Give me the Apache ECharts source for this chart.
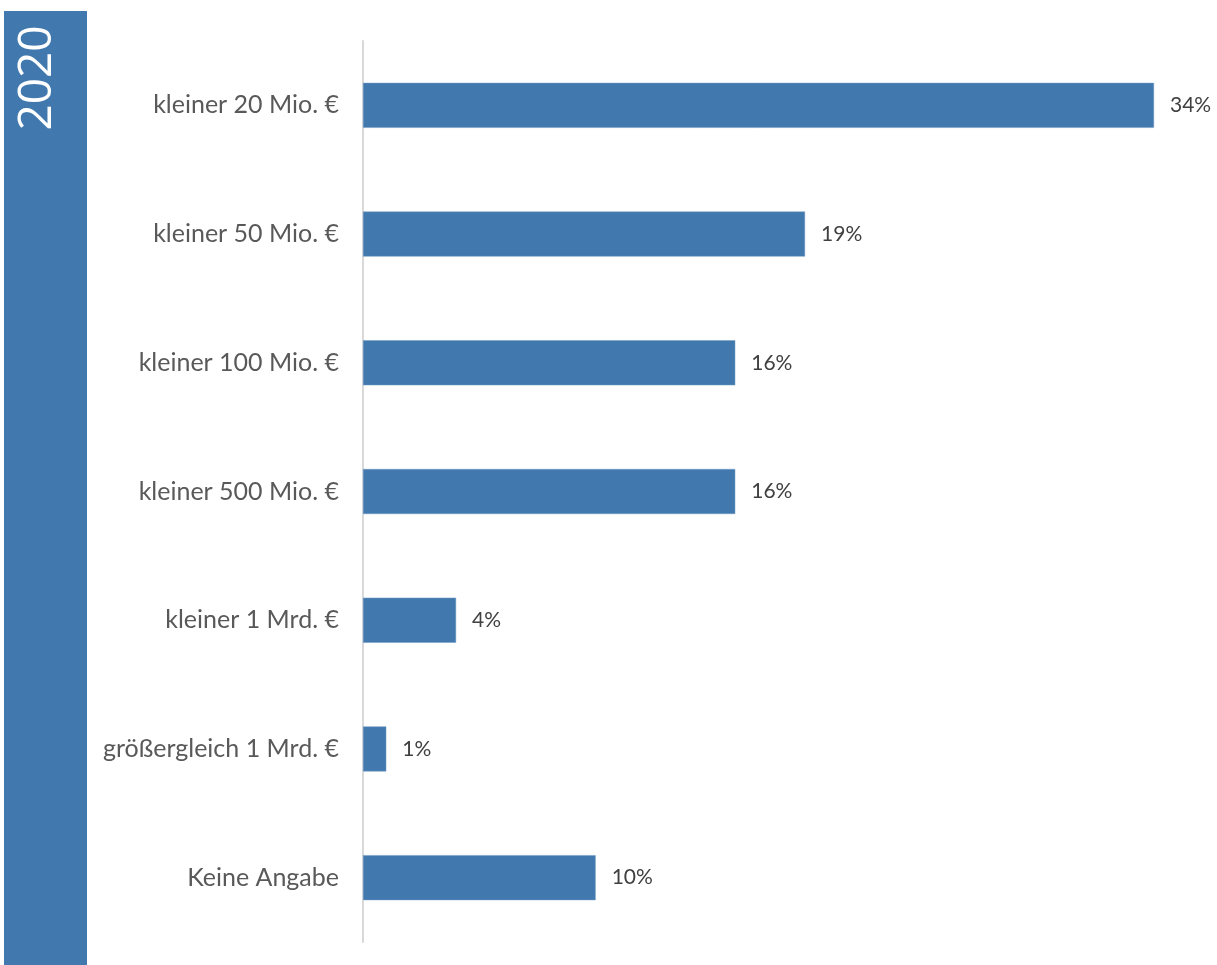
<!DOCTYPE html>
<html>
<head>
<meta charset="utf-8">
<script src="https://cdn.jsdelivr.net/npm/echarts@6/dist/echarts.min.js"></script>
<style>
  html, body { margin: 0; padding: 0; background: #ffffff; }
  #chart { width: 1217px; height: 965px; }
</style>
</head>
<body>
<div id="chart"></div>
<script>
// Umsatzklassen der befragten Unternehmen (Anteil in %)
const categories = [
  'kleiner 20 Mio. €',
  'kleiner 50 Mio. €',
  'kleiner 100 Mio. €',
  'kleiner 500 Mio. €',
  'kleiner 1 Mrd. €',
  'größergleich 1 Mrd. €',
  'Keine Angabe'
];
const shares = [34, 19, 16, 16, 4, 1, 10];
const yearLabel = '2020';

const chart = echarts.init(document.getElementById('chart'), null, { renderer: 'canvas' });

chart.setOption({
  animation: false,
  backgroundColor: '#ffffff',
  textStyle: { fontFamily: 'Lato, "Open Sans", sans-serif' },
  graphic: [
    {
      type: 'rect',
      shape: { x: 4, y: 11, width: 83, height: 960 },
      style: { fill: '#4179ae' },
      silent: true
    },
    {
      type: 'text',
      x: 38,
      y: 78,
      rotation: Math.PI / 2,
      style: {
        text: yearLabel,
        fill: '#ffffff',
        font: '46px "Open Sans", sans-serif',
        align: 'center',
        verticalAlign: 'middle'
      },
      silent: true
    }
  ],
  grid: { left: 363, top: 41, width: 791, height: 901, containLabel: false },
  xAxis: {
    type: 'value',
    min: 0,
    max: 34,
    show: false
  },
  yAxis: {
    type: 'category',
    inverse: true,
    data: categories,
    axisLine: { show: true, lineStyle: { color: '#d9d9d9', width: 2 } },
    axisTick: { show: false },
    splitLine: { show: false },
    axisLabel: {
      color: '#595959',
      fontSize: 25,
      margin: 24,
      fontFamily: 'Lato, sans-serif'
    }
  },
  series: [
    {
      type: 'bar',
      data: shares,
      barWidth: 45,
      itemStyle: { color: '#4179ae', borderColor: '#6f9ac3', borderWidth: 0.5 },
      label: {
        show: true,
        position: 'right',
        distance: 16,
        formatter: '{c}%',
        color: '#404040',
        fontSize: 21,
        fontFamily: 'Lato, sans-serif'
      }
    }
  ]
});
</script>
</body>
</html>
